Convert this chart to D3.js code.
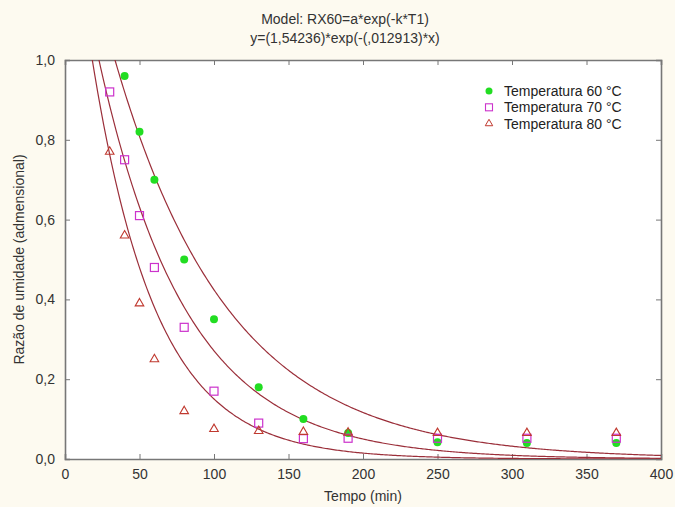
<!DOCTYPE html>
<html>
<head>
<meta charset="utf-8">
<script src="https://cdn.jsdelivr.net/npm/d3@7"></script>
<style>
  body { margin: 0; background: #fdfaf0; }
  svg { display: block; font-family: "Liberation Sans", Arial, sans-serif; }
</style>
</head>
<body>
<svg id="chart" width="675" height="507"></svg>
<script>
// dados
const tempo = [30, 40, 50, 60, 80, 100, 130, 160, 190, 250, 310, 370];
const rx60 = [null, 0.96, 0.82, 0.70, 0.50, 0.35, 0.18, 0.10, 0.065, 0.042, 0.040, 0.040];
const rx70 = [0.92, 0.75, 0.61, 0.48, 0.33, 0.17, 0.09, 0.051, 0.052, 0.052, 0.052, 0.052];
const rx80 = [0.77, 0.56, 0.39, 0.25, 0.12, 0.075, 0.07, 0.068, 0.066, 0.065, 0.065, 0.065];

// parametros do modelo a*exp(-k*x) para 60, 70, 80 °C
const modelA = [1.54236, 1.47, 1.53];
const modelK = [0.012913, 0.0169, 0.0232];

const xTicks = [0, 50, 100, 150, 200, 250, 300, 350, 400];
const yTicks = [0, 0.2, 0.4, 0.6, 0.8, 1.0];
const legendLabels = ["Temperatura 60 °C", "Temperatura 70 °C", "Temperatura 80 °C"];
const titleLines = ["Model: RX60=a*exp(-k*T1)", "y=(1,54236)*exp(-(,012913)*x)"];

const svg = d3.select("#chart");
const W = 675, H = 507;
const m = { left: 65, right: 14, top: 60, bottom: 48 };

svg.append("rect").attr("width", W).attr("height", H).attr("fill", "#fdfaf0");

const x = d3.scaleLinear().domain([0, 400]).range([m.left, W - m.right]);
const y = d3.scaleLinear().domain([0, 1]).range([H - m.bottom, m.top]);

const comma = v => d3.format(".1f")(v).replace(".", ",");

// area do grafico
svg.append("rect")
    .attr("x", x(0)).attr("y", y(1))
    .attr("width", x(400) - x(0)).attr("height", y(0) - y(1))
    .attr("fill", "#fff");

svg.append("clipPath").attr("id", "clip")
  .append("rect")
    .attr("x", x(0)).attr("y", y(1))
    .attr("width", x(400) - x(0)).attr("height", y(0) - y(1));

// eixos com marcas para dentro
const tickColor = "#777";
const axes = [
  d3.axisBottom(x).tickValues(xTicks).tickSize(-5).tickFormat(d => d).tickPadding(10),
  d3.axisLeft(y).tickValues(yTicks).tickSize(-5).tickFormat(comma).tickPadding(10)
];
svg.append("g").attr("transform", `translate(0,${y(0)})`).call(axes[0]);
svg.append("g").attr("transform", `translate(${x(0)},0)`).call(axes[1]);
svg.append("g").attr("transform", `translate(0,${y(1)})`)
    .call(d3.axisTop(x).tickValues(xTicks).tickSize(-5).tickFormat(""));
svg.append("g").attr("transform", `translate(${x(400)},0)`)
    .call(d3.axisRight(y).tickValues(yTicks).tickSize(-5).tickFormat(""));

svg.selectAll(".domain").attr("stroke", tickColor).attr("stroke-width", 1.6);
svg.selectAll(".tick line").attr("stroke", tickColor);
svg.selectAll(".tick text").attr("fill", "#333").attr("font-size", 14)
    .attr("font-family", "'Liberation Sans', Arial, sans-serif");

// curvas do modelo
const xs = d3.range(0, 400.5, 1);
const line = d3.line().x(d => x(d[0])).y(d => y(d[1]));
const curves = svg.append("g").attr("clip-path", "url(#clip)");
modelA.forEach((a, i) => {
  curves.append("path")
      .datum(xs.map(t => [t, a * Math.exp(-modelK[i] * t)]))
      .attr("d", line)
      .attr("fill", "none")
      .attr("stroke", "#9b2f3a")
      .attr("stroke-width", 1.2);
});

// pontos
const pts = (vals) => tempo.map((t, i) => [t, vals[i]]).filter(d => d[1] != null);

svg.append("g").selectAll("circle").data(pts(rx60)).join("circle")
    .attr("cx", d => x(d[0])).attr("cy", d => y(d[1])).attr("r", 4)
    .attr("fill", "#22dd22");

svg.append("g").selectAll("rect").data(pts(rx70)).join("rect")
    .attr("x", d => x(d[0]) - 4).attr("y", d => y(d[1]) - 4)
    .attr("width", 8).attr("height", 8)
    .attr("fill", "none").attr("stroke", "#cc33cc").attr("stroke-width", 1.2);

const tri = d3.symbol().type(d3.symbolTriangle).size(32);
svg.append("g").selectAll("path").data(pts(rx80)).join("path")
    .attr("transform", d => `translate(${x(d[0])},${y(d[1])})`)
    .attr("d", tri)
    .attr("fill", "none").attr("stroke", "#c0392f").attr("stroke-width", 1.1);

// legenda
const lg = svg.append("g").attr("transform", "translate(489,91)");
legendLabels.forEach((lab, i) => {
  const gy = i * 16.3;
  if (i === 0) lg.append("circle").attr("cx", 0).attr("cy", gy).attr("r", 3.5).attr("fill", "#22dd22");
  if (i === 1) lg.append("rect").attr("x", -3.5).attr("y", gy - 3.5).attr("width", 7).attr("height", 7)
      .attr("fill", "none").attr("stroke", "#cc33cc").attr("stroke-width", 1.1);
  if (i === 2) lg.append("path").attr("transform", `translate(0,${gy})`)
      .attr("d", d3.symbol().type(d3.symbolTriangle).size(24))
      .attr("fill", "none").attr("stroke", "#c0392f").attr("stroke-width", 1);
  lg.append("text").attr("x", 15).attr("y", gy).attr("dy", "0.35em")
      .attr("font-size", 14).attr("fill", "#222").text(lab);
});

// titulos
svg.append("text").attr("x", 345).attr("text-anchor", "middle").attr("font-size", 14).attr("fill", "#333")
  .selectAll("tspan").data(titleLines).join("tspan")
    .attr("x", 345).attr("y", (d, i) => 24 + i * 19).text(d => d);

svg.append("text").attr("x", (x(0) + x(400)) / 2).attr("y", 501)
    .attr("text-anchor", "middle").attr("font-size", 14).attr("fill", "#333")
    .text("Tempo (min)");

svg.append("text").attr("transform", `translate(24,${(y(0) + y(1)) / 2}) rotate(-90)`)
    .attr("text-anchor", "middle").attr("font-size", 14).attr("fill", "#333")
    .text("Razão de umidade (admensional)");
</script>
</body>
</html>
